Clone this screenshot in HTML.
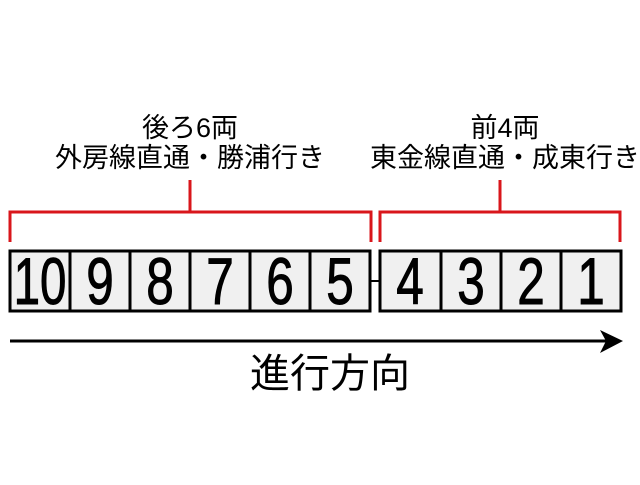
<!DOCTYPE html>
<html><head><meta charset="utf-8"><style>
body{margin:0;background:#fff;width:640px;height:480px;overflow:hidden}
svg text{font-family:"Liberation Sans","Noto Sans CJK JP",sans-serif}
</style></head><body>
<svg width="640" height="480" xmlns="http://www.w3.org/2000/svg">
<g fill="none" stroke="#d9161b" stroke-width="3">
<polyline points="10,242 10,212 371,212 371,242"/>
<line x1="190" y1="180" x2="190" y2="212"/>
<polyline points="380,242 380,212 620,212 620,242"/>
<line x1="500" y1="180" x2="500" y2="212"/>
</g>
<g font-size="27" text-anchor="middle" fill="#000">
<text x="190" y="137">後ろ6両</text>
<text x="190" y="167">外房線直通・勝浦行き</text>
<text x="505" y="137">前4両</text>
<text x="505" y="167">東金線直通・成東行き</text>
</g>
<line x1="370" y1="281" x2="380" y2="281" stroke="#000" stroke-width="2"/>
<g fill="#f0f0f0" stroke="#000" stroke-width="3">
<rect x="10" y="251" width="60" height="60"/><rect x="70" y="251" width="60" height="60"/>
<rect x="130" y="251" width="60" height="60"/><rect x="190" y="251" width="60" height="60"/>
<rect x="250" y="251" width="60" height="60"/><rect x="310" y="251" width="60" height="60"/>
<rect x="380" y="251" width="61" height="60"/><rect x="441" y="251" width="60" height="60"/>
<rect x="501" y="251" width="60" height="60"/><rect x="561" y="251" width="60" height="60"/>
</g>
<g font-size="66" text-anchor="middle" fill="#000" stroke="#000" stroke-width="1">
<text transform="translate(40,304) scale(0.72,1)">10</text>
<text transform="translate(100,304) scale(0.75,1)">9</text>
<text transform="translate(160,304) scale(0.75,1)">8</text>
<text transform="translate(220,304) scale(0.75,1)">7</text>
<text transform="translate(280,304) scale(0.75,1)">6</text>
<text transform="translate(340,304) scale(0.75,1)">5</text>
<text transform="translate(410,304) scale(0.75,1)">4</text>
<text transform="translate(471,304) scale(0.75,1)">3</text>
<text transform="translate(531,304) scale(0.75,1)">2</text>
<text transform="translate(591,304) scale(0.75,1)">1</text>
</g>
<line x1="10" y1="341" x2="610" y2="341" stroke="#000" stroke-width="3"/>
<polygon points="600,330 623,341 600,353 606,341" fill="#000"/>
<text x="330" y="387" font-size="40" text-anchor="middle">進行方向</text>
</svg>
</body></html>
